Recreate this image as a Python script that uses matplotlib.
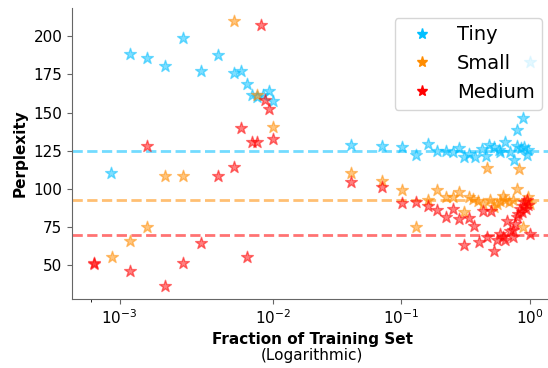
import numpy as np
import matplotlib
matplotlib.use("Agg")
import matplotlib.pyplot as plt
from matplotlib.lines import Line2D

# fraction of the training set used vs. resulting perplexity, per model size
tiny_x = [7.1e-4, 1.35e-3, 1.96e-3, 2.6e-3, 3.2e-3, 3.84e-3, 4.45e-3, 5.0e-3, 5.67e-3,
          6.3e-3, 6.87e-3, 7.5e-3, 8.4e-3, 9.36e-3, 1.0e-2,
          0.0403, 0.0707, 0.101, 0.130, 0.160, 0.188, 0.221, 0.250, 0.282, 0.308,
          0.337, 0.373, 0.421, 0.455, 0.483, 0.519, 0.571, 0.584, 0.640, 0.699,
          0.755, 0.797, 0.847, 0.898, 0.942, 0.970, 0.788, 0.887, 1.0]
tiny_y = [110.5, 188.6, 186.0, 180.5, 199.1, 177.2, 187.5, 175.9, 177.0,
          168.6, 161.2, 160.5, 161.6, 164.3, 157.4,
          129.0, 127.8, 127.6, 122.4, 129.4, 124.5, 124.5, 123.9, 126.5, 120.6,
          122.8, 121.0, 126.1, 121.7, 129.0, 127.2, 125.5, 123.9, 130.5, 123.9,
          118.9, 128.3, 126.8, 127.2, 122.4, 125.5, 138.6, 146.5, 183.1]

small_x = [7.2e-4, 1.35e-3, 1.96e-3, 2.6e-3, 3.2e-3, 5.0e-3, 7.5e-3, 1.0e-2,
           0.0403, 0.0707, 0.101, 0.130, 0.160, 0.188, 0.221, 0.250, 0.282, 0.308,
           0.337, 0.358, 0.396, 0.429, 0.460, 0.488, 0.519, 0.551, 0.584, 0.613,
           0.643, 0.690, 0.733, 0.788, 0.821, 0.887, 0.940, 0.970, 1.0]
small_y = [55.3, 65.8, 75.0, 108.1, 108.1, 210.0, 161.2, 140.3,
           110.1, 104.8, 99.1, 74.6, 92.8, 99.1, 94.7, 94.3, 97.6, 84.4,
           94.3, 93.2, 91.7, 89.9, 113.6, 92.6, 88.2, 89.9, 92.1, 94.9,
           92.8, 91.0, 92.6, 99.8, 113.0, 75.0, 92.1, 94.3, 89.9]

medium_x = [1.0e-4, 1.05e-4, 1.35e-3, 1.96e-3, 2.6e-3, 3.2e-3, 3.84e-3, 4.45e-3, 5.0e-3,
            5.7e-3, 6.3e-3, 6.87e-3, 7.6e-3, 8.14e-3, 8.7e-3, 9.3e-3, 1.0e-2,
            0.0403, 0.0707, 0.101, 0.130, 0.160, 0.188, 0.221, 0.250, 0.282, 0.308,
            0.337, 0.366, 0.402, 0.429, 0.466, 0.494, 0.519, 0.551, 0.584, 0.613,
            0.640, 0.666, 0.699, 0.733, 0.740, 0.762, 0.788, 0.811, 0.836, 0.862,
            0.877, 0.898, 0.920, 0.942, 0.965, 1.0]
medium_y = [50.5, 51.0, 46.1, 128.1, 36.2, 50.9, 64.0, 108.1, 114.0,
            139.9, 55.3, 130.5, 130.5, 207.7, 158.4, 152.4, 132.7,
            104.2, 100.9, 90.3, 91.4, 88.6, 86.0, 81.6, 86.6, 79.8, 63.0,
            80.5, 75.7, 64.7, 85.1, 68.4, 85.5, 59.2, 66.3, 70.2, 68.4,
            66.3, 78.5, 71.9, 68.4, 72.8, 76.8, 81.6, 83.4, 86.6, 84.4,
            88.8, 91.0, 86.6, 92.6, 89.5, 70.2]

# perplexity of each model trained on the full set
baselines = [125.0, 92.5, 69.8]

labels = ["Tiny", "Small", "Medium"]
colors = ["deepskyblue", "darkorange", "red"]

fig = plt.figure(figsize=(5.48, 3.68), dpi=100)
ax = fig.add_axes([0.1314, 0.1875, 0.8759, 0.7908])

for base, c in zip(baselines, colors):
    ax.axhline(base, color=c, alpha=0.55, linestyle="--", linewidth=2, zorder=1)

series = [(tiny_x, tiny_y), (small_x, small_y), (medium_x, medium_y)]
for (xs, ys), c in zip(series, colors):
    ax.scatter(xs, ys, marker="*", s=80, color=c, alpha=0.5, zorder=2)

ax.set_xscale("symlog", linthresh=5e-3)
ax.set_xticks([1e-3, 1e-2, 1e-1, 1])
ax.set_xticks([0], minor=True)

for side in ["top", "right"]:
    ax.spines[side].set_visible(False)
for side in ["left", "bottom"]:
    ax.spines[side].set_color("0.4")
ax.tick_params(colors="0.4", labelcolor="black", labelsize=11)

ax.set_ylabel("Perplexity", fontsize=11, fontweight="bold")
ax.set_xlabel("Fraction of Training Set", fontsize=11, fontweight="bold", labelpad=3)
ax.annotate("(Logarithmic)", xy=(0.5, 0), xycoords=ax.xaxis.label,
            xytext=(0, -1), textcoords="offset points",
            ha="center", va="top", fontsize=11)

handles = [Line2D([], [], marker="*", color=c, linestyle="", markersize=8)
           for c in colors]
ax.legend(handles, labels, loc="upper right", fontsize=14)

fig.savefig("out.png", dpi=100)
